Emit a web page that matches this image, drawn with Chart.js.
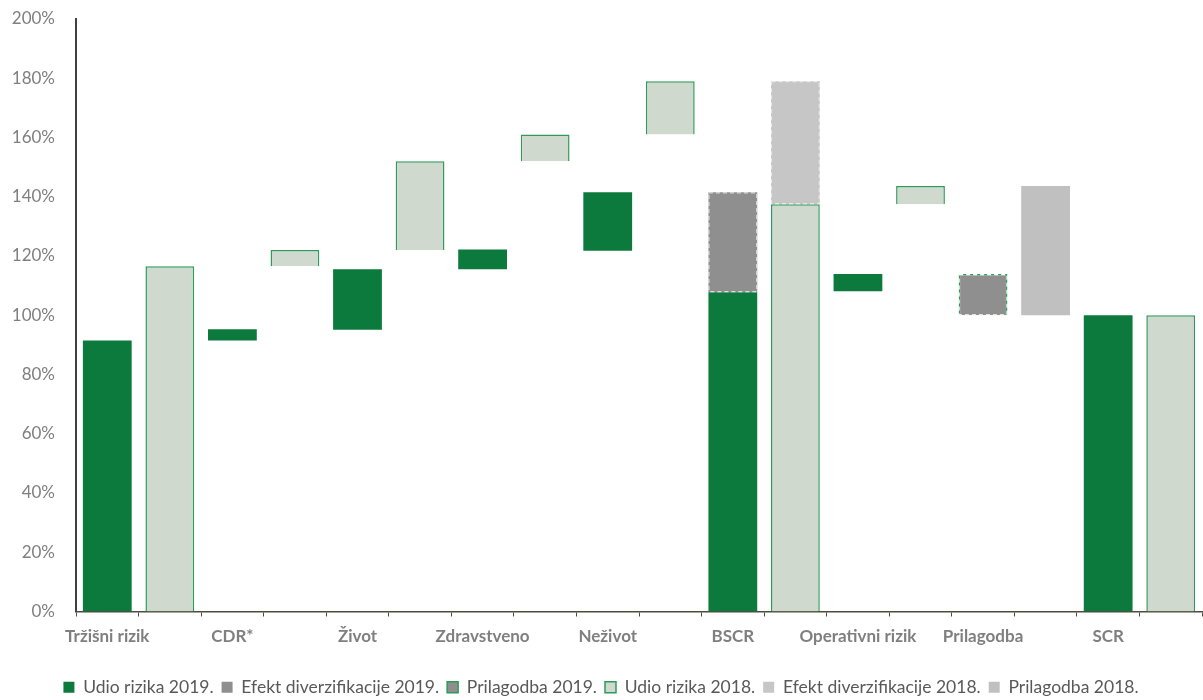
<!DOCTYPE html>
<html>
<head>
<meta charset="utf-8">
<script src="https://cdn.jsdelivr.net/npm/chart.js@4"></script>
<style>
  html, body { margin: 0; padding: 0; background: #fff; }
  #wrap { width: 1203px; height: 700px; position: relative; }
</style>
</head>
<body>
<div id="wrap"><canvas id="scrChart"></canvas></div>
<script>
// --------------------------------------------------
//  DATA (% of SCR) - one slot per bar, label on 2019 slot
// --------------------------------------------------
const slots = ['Tržišni rizik', '', 'CDR*', '', 'Život', '', 'Zdravstveno', '', 'Neživot', '',
               'BSCR', '', 'Operativni rizik', '', 'Prilagodba', '', 'SCR', ''];

const udio2019 = [[0, 91.5], null, [91.5, 95.3], null, [95.1, 115.5], null, [115.5, 122.2], null, [121.8, 141.5], null,
                  [0, 107.8], null, [108.1, 113.9], null, null, null, [0, 100], null];
const efekt2019 = [null, null, null, null, null, null, null, null, null, null,
                   [107.8, 141.5], null, null, null, null, null, null, null];
const prilagodba2019 = [null, null, null, null, null, null, null, null, null, null,
                        null, null, null, null, [100, 113.9], null, null, null];
const udio2018 = [null, [0, 116.5], null, [116.5, 122], null, [122, 152], null, [152, 161], null, [161, 179],
                  null, [0, 137.5], null, [137.5, 143.6], null, null, null, [0, 100]];
const efekt2018 = [null, null, null, null, null, null, null, null, null, null,
                   null, [137.5, 179], null, null, null, null, null, null];
const prilagodba2018 = [null, null, null, null, null, null, null, null, null, null,
                        null, null, null, null, null, [100, 143.6], null, null];

const yTicks = [0, 20, 40, 60, 80, 100, 120, 140, 160, 180, 200];

const GREEN = '#0c7a3d';
const GREEN_LINE = '#2f9a5b';
const LIGHT = '#cfd9cd';
const GREY_TXT = '#7f7f7f';
const FONT = 'Lato, "Open Sans", sans-serif';

// dashed white overlay on bar borders (Excel dashed outline look)
const dashBorders = {
    id: 'dashBorders',
    afterDatasetsDraw(chart) {
        const ctx = chart.ctx;
        chart.data.datasets.forEach((ds, i) => {
            if (!ds.dashOverlay) return;
            const meta = chart.getDatasetMeta(i);
            meta.data.forEach((bar, j) => {
                if (ds.data[j] == null) return;
                const p = bar.getProps(['x', 'y', 'base', 'width'], true);
                const left = p.x - p.width / 2, top = Math.min(p.y, p.base);
                const h = Math.abs(p.base - p.y);
                ctx.save();
                ctx.strokeStyle = ds.dashOverlay;
                ctx.lineWidth = 1.2;
                ctx.setLineDash([4, 3]);
                ctx.strokeRect(left + 0.5, top + 0.5, p.width - 1, h - 1);
                ctx.restore();
            });
        });
    }
};

function initChart() {
    const ctx = document.getElementById('scrChart').getContext('2d');

    new Chart(ctx, {
        type: 'bar',
        data: {
            labels: slots,
            datasets: [
                { label: 'Udio rizika 2019.', data: udio2019, backgroundColor: GREEN, borderWidth: 0 },
                { label: 'Efekt diverzifikacije 2019.', data: efekt2019, backgroundColor: '#8f8f8f', borderWidth: 0,
                  dashOverlay: 'rgba(230,230,230,0.9)' },
                { label: 'Prilagodba 2019.', data: prilagodba2019, backgroundColor: '#8f8f8f', borderColor: GREEN_LINE,
                  borderWidth: 1.5, dashOverlay: '#ffffff' },
                { label: 'Udio rizika 2018.', data: udio2018, backgroundColor: LIGHT, borderColor: GREEN_LINE, borderWidth: 1.5 },
                { label: 'Efekt diverzifikacije 2018.', data: efekt2018, backgroundColor: '#c6c6c6', borderWidth: 0,
                  dashOverlay: 'rgba(235,235,235,0.9)' },
                { label: 'Prilagodba 2018.', data: prilagodba2018, backgroundColor: '#c0c0c0', borderWidth: 0 }
            ]
        },
        options: {
            responsive: true,
            maintainAspectRatio: false,
            animation: false,
            datasets: { bar: { categoryPercentage: 1, barPercentage: 0.78, grouped: false } },
            layout: { padding: { top: 19, right: 1, bottom: -6, left: 0 } },
            plugins: {
                legend: {
                    position: 'bottom',
                    labels: {
                        boxWidth: 11, boxHeight: 11, padding: 8,
                        color: '#595959',
                        font: { family: FONT, size: 17.5 }
                    }
                },
                tooltip: { enabled: false }
            },
            scales: {
                x: {
                    stacked: true,
                    grid: { display: true, drawOnChartArea: false, drawTicks: true, tickLength: 5, color: '#4d4d3d', offset: true },
                    border: { display: true, color: '#4d4d3d', width: 1.5 },
                    ticks: {
                        autoSkip: false, maxRotation: 0, padding: 10,
                        color: GREY_TXT,
                        font: { family: FONT, size: 17, weight: 'bold' }
                    },
                    afterFit: function(scale) { scale.height = 59; scale.paddingLeft = 0; scale.paddingRight = 0; }
                },
                y: {
                    min: 0, max: 200,
                    afterBuildTicks: function(scale) { scale.ticks = yTicks.map(v => ({ value: v })); },
                    grid: { display: false },
                    border: { display: true, color: '#404040', width: 2 },
                    ticks: {
                        padding: 13,
                        color: GREY_TXT,
                        font: { family: FONT, size: 17 },
                        callback: v => v + '%'
                    },
                    afterFit: function(scale) { scale.width = 76; scale.paddingTop = 0; scale.paddingBottom = 0; }
                }
            }
        },
        plugins: [dashBorders]
    });
}

initChart();
</script>
</body>
</html>
